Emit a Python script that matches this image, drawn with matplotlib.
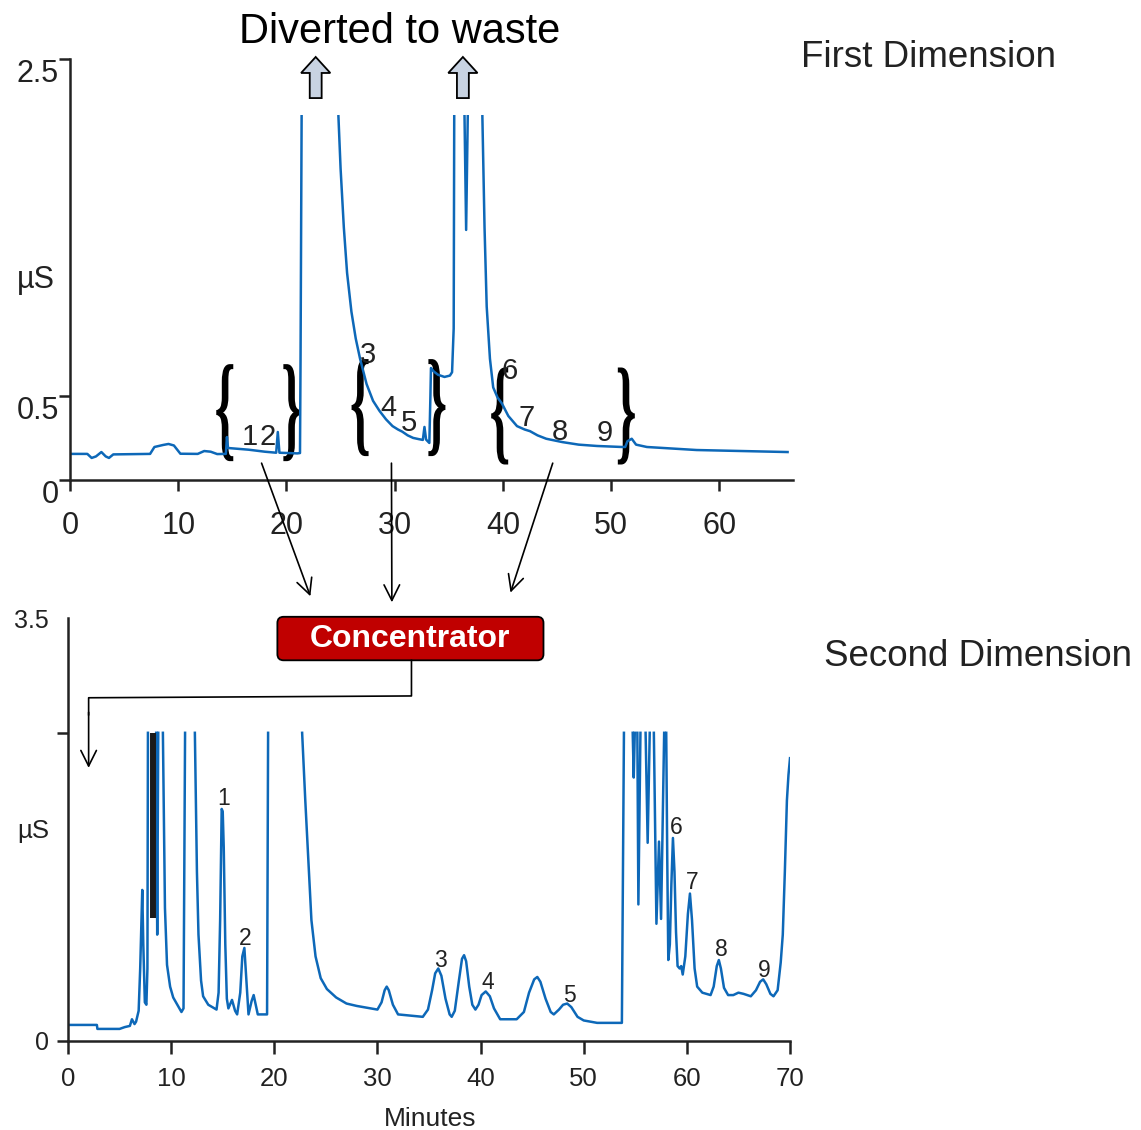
import numpy as np
import matplotlib
matplotlib.use('Agg')
import matplotlib.pyplot as plt
from matplotlib.patches import FancyArrow, FancyBboxPatch, PathPatch
from matplotlib.textpath import TextPath
from matplotlib.font_manager import FontProperties
from matplotlib.transforms import Affine2D, ScaledTranslation

plt.rcParams['font.family'] = ['Liberation Sans', 'DejaVu Sans']

nan = np.nan

# ---- first dimension (minutes, uS); nan = big peaks sent to waste (off scale)
t1 = [0, 1.6, 2.0, 2.4, 2.9, 3.3, 3.6, 4.0, 7.4, 7.8, 8.6, 9.1, 9.6, 10.2,
      11.8, 12.4, 13.0, 13.6, 14.4, 14.5, 14.6, 16.5, 18.0, 19.05, 19.2, 19.35,
      21.0, 21.25, 21.3, 21.4, nan,
      24.8, 25.0, 25.3, 25.6, 26.0, 26.4, 26.8, 27.4, 28.0, 28.6, 29.2, 29.8,
      30.3, 30.7, 31.2, 31.7, 32.2, 32.6, 32.75, 32.9, 33.2, 33.3, 33.35, 33.6,
      34.0, 34.6, 35.1, 35.3, 35.45, 35.5, nan,
      36.45, 36.6, 36.75, nan,
      38.1, 38.3, 38.5, 38.8, 39.1, 39.5, 39.9, 40.5, 41.3, 42.0, 42.5, 43.2,
      44.0, 45.5, 47.0, 48.7, 51.0, 51.3, 51.5, 51.9, 52.3, 53.3, 57.9, 66.3]
v1 = [0.155, 0.155, 0.131, 0.14, 0.166, 0.14, 0.131, 0.152, 0.155, 0.196, 0.208,
      0.214, 0.205, 0.156, 0.155, 0.172, 0.168, 0.154, 0.155, 0.255, 0.19, 0.18,
      0.168, 0.162, 0.285, 0.162, 0.158, 0.16, 0.71, 2.16, nan,
      2.16, 1.85, 1.5, 1.23, 1.0, 0.84, 0.72, 0.57, 0.47, 0.41, 0.36, 0.32,
      0.30, 0.287, 0.265, 0.25, 0.243, 0.238, 0.315, 0.24, 0.22, 0.5, 0.665, 0.645,
      0.625, 0.612, 0.62, 0.64, 0.9, 2.16, nan,
      2.16, 1.485, 2.16, nan,
      2.16, 1.5, 1.03, 0.72, 0.55, 0.49, 0.455, 0.38, 0.32, 0.30, 0.29, 0.265,
      0.245, 0.225, 0.21, 0.202, 0.196, 0.196, 0.23, 0.245, 0.21, 0.196, 0.178, 0.166]

# ---- second dimension
t2 = [0, 2.8, 2.85, 5.0, 5.5, 6.0, 6.2, 6.45, 6.6, 6.85, 7.0, 7.2, 7.3, 7.45,
      7.6, 7.7, 7.75, nan,
      8.55, 8.65, 8.75, nan,
      9.2, 9.4, 9.6, 9.9, 10.2, 10.6, 11.0, 11.2, 11.35, nan,
      12.3, 12.5, 12.65, 12.9, 13.1, 13.6, 14.4, 14.6, 14.75, 14.9, 15.0, 15.1,
      15.25, 15.4, 15.55, 15.9, 16.2, 16.4, 16.7, 16.9, 17.1, 17.3, 17.5, 17.8,
      18.0, 18.2, 18.4, 19.3, 19.4, nan,
      22.7, 23.0, 23.3, 23.6, 24.0, 24.5, 25.1, 26.0, 27.0, 28.0, 29.3, 30.0,
      30.4, 30.7, 30.9, 31.1, 31.5, 32.0,
      34.4, 34.9, 35.3, 35.6, 35.9, 36.2, 36.6, 37.0, 37.2, 37.5, 37.9, 38.2,
      38.4, 38.6, 38.9, 39.2, 39.5, 39.8, 40.1, 40.5, 40.9, 41.3, 41.9, 43.5,
      44.2, 44.7, 45.2, 45.5, 45.8, 46.3, 46.8, 47.1, 47.6, 48.0, 48.4, 48.8,
      49.4, 50.0, 51.3, 53.7, 53.9, nan,
      54.75, 54.85, 54.95, nan,
      55.2, 55.3, 55.5, nan,
      56.0, 56.2, 56.4, nan,
      56.8, 57.05, 57.3, 57.5, 57.8, nan,
      58.0, 58.1, 58.2, 58.35, 58.5, 58.65, 58.8, 58.95, 59.1, 59.3, 59.45, 59.6,
      59.85, 60.1, 60.3, 60.5, 60.75, 61.0, 61.5, 62.3, 62.6, 62.9, 63.1, 63.3,
      63.6, 64.0, 64.5, 65.0, 65.5, 66.2, 66.7, 67.1, 67.4, 67.7, 68.1, 68.4,
      68.8, 69.1, 69.3, 69.5, 69.7, 69.85, 70.0]
v2 = [0.133, 0.133, 0.10, 0.10, 0.115, 0.125, 0.18, 0.14, 0.16, 0.25, 0.6, 1.25,
      0.8, 0.32, 0.30, 0.6, 2.55, nan,
      2.55, 0.88, 2.55, nan,
      2.55, 1.1, 0.63, 0.45, 0.36, 0.3, 0.24, 0.27, 2.55, nan,
      2.55, 1.4, 0.88, 0.5, 0.37, 0.30, 0.26, 0.4, 1.0, 1.92, 1.9, 1.6,
      0.8, 0.35, 0.27, 0.34, 0.25, 0.22, 0.4, 0.7, 0.77, 0.5, 0.22, 0.33,
      0.38, 0.3, 0.22, 0.22, 2.55, nan,
      2.55, 2.0, 1.5, 1.0, 0.7, 0.52, 0.43, 0.36, 0.31, 0.29, 0.27, 0.26,
      0.32, 0.42, 0.45, 0.42, 0.3, 0.22,
      0.20, 0.26, 0.42, 0.56, 0.60, 0.54, 0.35, 0.22, 0.20, 0.25, 0.50, 0.68,
      0.71, 0.66, 0.45, 0.30, 0.26, 0.30, 0.38, 0.41, 0.37, 0.27, 0.18, 0.18,
      0.24, 0.40, 0.51, 0.53, 0.49, 0.35, 0.24, 0.22, 0.26, 0.30, 0.31, 0.28,
      0.2, 0.17, 0.15, 0.15, 2.55, nan,
      2.55, 2.18, 2.55, nan,
      2.55, 1.13, 2.55, nan,
      2.55, 1.64, 2.55, nan,
      2.55, 0.97, 1.65, 1.01, 2.55, nan,
      2.55, 1.5, 0.67, 0.8, 1.3, 1.68, 1.4, 0.9, 0.62, 0.6, 0.62, 0.55,
      0.7, 1.05, 1.22, 1.0, 0.6, 0.45, 0.40, 0.38, 0.45, 0.62, 0.67, 0.6,
      0.44, 0.38, 0.38, 0.40, 0.39, 0.37, 0.42, 0.49, 0.51, 0.47, 0.39, 0.37,
      0.42, 0.65, 0.88, 1.4, 1.99, 2.2, 2.34]
# dark overlaid trace near 8 min
t2b = [8.2, 8.2]
v2b = [2.55, 1.02]

# fraction cut windows (min) sent from 1st to 2nd dimension
cut_start = [14.3, 26.8, 39.7]
cut_end = [20.5, 33.9, 51.4]

peak_ids = ['1', '2', '3', '4', '5', '6', '7', '8', '9']

blue = '#0d68b8'
dark = '#222222'

fig = plt.figure(figsize=(11.41, 11.30), dpi=100)
ax1 = fig.add_axes([70 / 1141, 1 - 480 / 1130, 723 / 1141, 421 / 1130])
ax2 = fig.add_axes([68 / 1141, 1 - 1041 / 1130, 722 / 1141, 423 / 1130])

for ax in (ax1, ax2):
    ax.patch.set_alpha(0)
    ax.spines['top'].set_visible(False)
    ax.spines['right'].set_visible(False)
    for s in ('left', 'bottom'):
        ax.spines[s].set_linewidth(1.8)
        ax.spines[s].set_color(dark)

# ---------------- top chart
ax1.plot(t1, v1, color=blue, lw=1.8)
ax1.set_xlim(0, 66.8)
ax1.set_ylim(0, 2.5)
ax1.set_xticks(range(0, 70, 10))
ax1.set_yticks([0, 0.5, 2.5])
ax1.set_yticklabels(['0', '0.5', '2.5'])
ax1.tick_params(axis='x', length=8, width=1.8, color=dark, labelsize=22, pad=14, labelcolor=dark)
ax1.tick_params(axis='y', length=8, width=1.8, color=dark, labelsize=22, pad=0, labelcolor=dark)
for lab in ax1.get_yticklabels():
    lab.set_va('top')
ax1.set_ylabel('µS', rotation=0, fontsize=22, color=dark, ha='center', va='center')
ax1.yaxis.set_label_coords(-0.047, 0.475)

ax1.text(30.5, 2.66, 'Diverted to waste', fontsize=30, ha='center', va='center',
         color='black', clip_on=False)
for xa in (22.7, 36.3):
    ax1.add_patch(FancyArrow(xa, 2.268, 0, 2.512 - 2.268, width=1.1, head_width=2.7,
                             head_length=0.095, length_includes_head=True,
                             fc='#c8d3e2', ec='black', lw=1.3, clip_on=False))
ax1.text(79.3, 2.51, 'First Dimension', fontsize=26.5, ha='center', va='center',
         color=dark, clip_on=False)

# peak numbers on 1st dimension
lab1_x = [16.6, 18.3, 27.5, 29.4, 31.3, 40.6, 42.2, 45.3, 49.4]
lab1_y = [0.255, 0.255, 0.74, 0.43, 0.34, 0.65, 0.37, 0.285, 0.28]
for s, x, y in zip(peak_ids, lab1_x, lab1_y):
    ax1.text(x, y, s, fontsize=21, ha='center', va='center', color=dark)

# braces around each cut window
bfont = FontProperties(family='Liberation Serif', weight='bold')


def brace(ax, ch, x, y, w=17, h=97):
    tp = TextPath((0, 0), ch, size=100, prop=bfont)
    bb = tp.get_extents()
    tr = (Affine2D().translate(-(bb.x0 + bb.x1) / 2, -(bb.y0 + bb.y1) / 2)
          .scale(w / bb.width, h / bb.height)
          + ScaledTranslation(x, y, ax.transData))
    ax.add_patch(PathPatch(tp, transform=tr, fc='black', ec='none', clip_on=False))


brace_y = [0.40, 0.43, 0.38]
for a, b, y in zip(cut_start, cut_end, brace_y):
    brace(ax1, '{', a, y)
    brace(ax1, '}', b, y)

# ---------------- bottom chart
ax2.plot(t2, v2, color=blue, lw=1.8)
ax2.plot(t2b, v2b, color='#1a1a1a', lw=4.3, solid_capstyle='butt')
ax2.set_xlim(0, 70)
ax2.set_ylim(0, 3.5)
ax2.set_xticks(range(0, 80, 10))
ax2.set_yticks([0, 2.55, 3.5])
ax2.set_yticklabels(['0', '', '3.5'])
ax2.yaxis.get_major_ticks()[2].tick1line.set_visible(False)
ax2.tick_params(axis='x', length=9, width=1.8, color=dark, labelsize=18.5, pad=10, labelcolor=dark)
ax2.tick_params(axis='y', length=8, width=1.8, color=dark, labelsize=18, pad=6, labelcolor=dark)
ax2.set_ylabel('µS', rotation=0, fontsize=18.5, color=dark, ha='center', va='center')
ax2.yaxis.set_label_coords(-0.048, 0.496)
ax2.set_xlabel('Minutes', fontsize=19, color=dark, ha='center', va='center')
ax2.xaxis.set_label_coords(0.501, -0.184)

lab2_x = [15.1, 17.2, 36.1, 40.7, 48.6, 59.0, 60.5, 63.3, 67.5]
lab2_y = [2.01, 0.85, 0.67, 0.48, 0.38, 1.77, 1.31, 0.76, 0.58]
for s, x, y in zip(peak_ids, lab2_x, lab2_y):
    ax2.text(x, y, s, fontsize=16.5, ha='center', va='center', color=dark)

ax2.text(88.2, 3.18, 'Second Dimension', fontsize=26.5, ha='center', va='center',
         color=dark, clip_on=False)

# concentrator box
ax2.add_patch(FancyBboxPatch((20.3, 3.15), 46.1 - 20.3, 3.51 - 3.15,
                             boxstyle='round,pad=0,rounding_size=0.6',
                             mutation_aspect=10.31 / 120.86,
                             fc='#c00000', ec='black', lw=1.3, clip_on=False))
ax2.text(33.2, 3.33, 'Concentrator', color='white', fontsize=23, weight='bold',
         ha='center', va='center', clip_on=False)
ax2.plot([33.3, 33.3, 2.0, 2.0], [3.15, 2.855, 2.84, 2.7], color='black', lw=1.2,
         clip_on=False)
ax2.annotate('', xy=(2.0, 2.26), xytext=(2.0, 2.72),
             arrowprops=dict(arrowstyle='->', lw=1.2, color='black', mutation_scale=28,
                             shrinkA=0, shrinkB=0))

# lines from each cut window down to the concentrator
line_from_x = [17.7, 29.7, 44.6]
line_to_x = [23.5, 31.4, 42.9]
line_to_y = [3.68, 3.63, 3.71]
for xs, xe, ye in zip(line_from_x, line_to_x, line_to_y):
    ax1.annotate('', xy=(xe, ye), xycoords=ax2.transData,
                 xytext=(xs, 0.10), textcoords=ax1.transData, annotation_clip=False,
                 arrowprops=dict(arrowstyle='->', lw=1.2, color='black',
                                 mutation_scale=28, shrinkA=0, shrinkB=0))

fig.savefig('out.png', dpi=100)
